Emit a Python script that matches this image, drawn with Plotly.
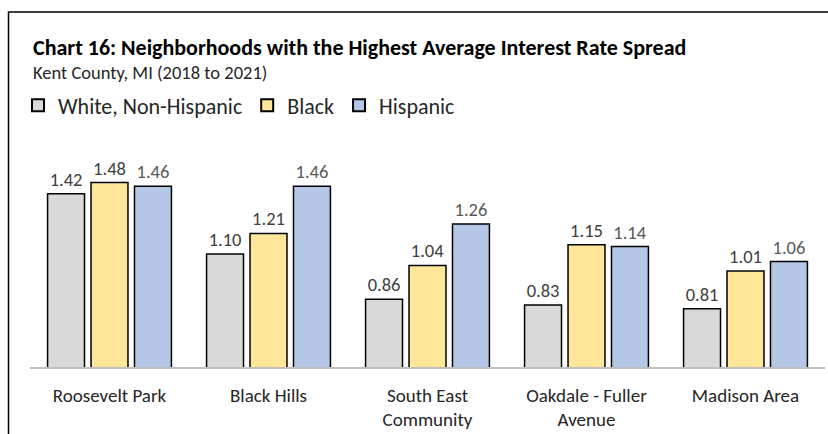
import plotly.graph_objects as go

categories = ["Roosevelt Park", "Black Hills", "South East<br>Community", "Oakdale - Fuller<br>Avenue", "Madison Area"]
series_names = ["White, Non-Hispanic", "Black", "Hispanic"]
white_vals = [1.42, 1.10, 0.86, 0.83, 0.81]
black_vals = [1.48, 1.21, 1.04, 1.15, 1.01]
hisp_vals = [1.46, 1.46, 1.26, 1.14, 1.06]
colors = ["#D9D9D9", "#FFE699", "#B4C7E7"]
label_colors = ["#404040", "#404040", "#595959"]

FONT = "Calibri, Carlito, Lato, sans-serif"
W, H = 828, 434
L, R, T, B = 30, 3, 160, 65
pw, ph = W - L - R, H - T - B

def px(x):
    return (x - L) / pw

def py(y):
    return (H - B - y) / ph

fig = go.Figure()
for name, vals, c, lc in zip(series_names, [white_vals, black_vals, hisp_vals], colors, label_colors):
    fig.add_trace(go.Bar(
        name=name, x=categories, y=vals,
        marker=dict(color=c, line=dict(color="#000000", width=1.5)),
        text=[f"{v:.2f}" for v in vals], textposition="outside",
        textfont=dict(family=FONT, size=18.5, color=lc),
        cliponaxis=False,
    ))

fig.update_layout(
    width=W, height=H,
    margin=dict(l=L, r=R, t=T, b=B, pad=0),
    paper_bgcolor="white", plot_bgcolor="white",
    barmode="group", bargap=0.18, bargroupgap=0.15,
    font=dict(family=FONT, color="#404040"),
    showlegend=True,
    legend=dict(orientation="h", x=px(18), y=py(105), xanchor="left", yanchor="middle",
                font=dict(family=FONT, size=22, color="#262626"),
                itemsizing="constant", traceorder="normal", bgcolor="rgba(0,0,0,0)"),
    xaxis=dict(showline=True, linecolor="#BFBFBF", linewidth=1.5, ticks="",
               tickfont=dict(family=FONT, size=19, color="#262626"),
               ticklabelstandoff=10, showgrid=False, zeroline=False),
    yaxis=dict(range=[0.5, 1.6], visible=False, showgrid=False, zeroline=False),
)

fig.add_annotation(text="<b>Chart 16: Neighborhoods with the Highest Average Interest Rate Spread</b>",
                   xref="paper", yref="paper", x=px(31), y=py(46), xanchor="left", yanchor="middle",
                   showarrow=False, font=dict(family=FONT, size=22, color="#000000"))
fig.add_annotation(text="Kent County, MI (2018 to 2021)",
                   xref="paper", yref="paper", x=px(31), y=py(72), xanchor="left", yanchor="middle",
                   showarrow=False, font=dict(family=FONT, size=18.5, color="#262626"))

# frame around the chart (cut off at right and bottom)
fig.add_shape(type="path", xref="paper", yref="paper",
              path=f"M {px(8.5)} {py(440)} L {px(8.5)} {py(10.5)} L {px(840)} {py(10.5)}",
              line=dict(color="#000000", width=1.5))

fig.write_html("out.html")
